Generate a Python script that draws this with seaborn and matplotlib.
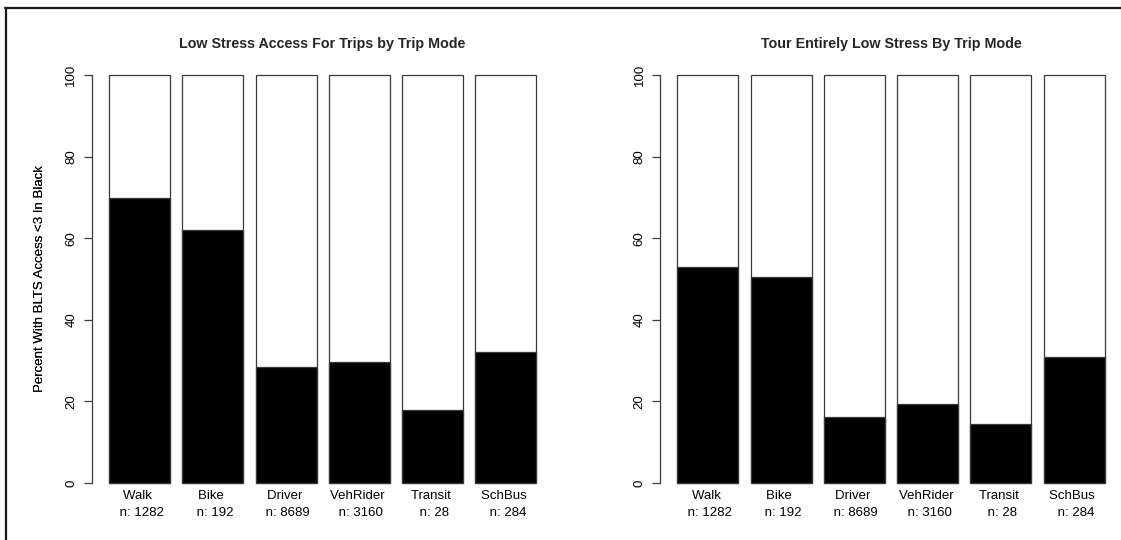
import matplotlib
matplotlib.use("Agg")
import matplotlib.pyplot as plt
from matplotlib.lines import Line2D
import seaborn as sns

# data
modes = ["Walk", "Bike", "Driver", "VehRider", "Transit", "SchBus"]
counts = [1282, 192, 8689, 3160, 28, 284]
trips_low_stress = [69.8, 61.9, 28.5, 29.7, 17.8, 32.2]
tour_low_stress = [53.0, 50.5, 16.1, 19.3, 14.5, 31.0]
full_bar = [100, 100, 100, 100, 100, 100]
yticks = [0, 20, 40, 60, 80, 100]

titles = ["Low Stress Access For Trips by Trip Mode",
          "Tour Entirely Low Stress By Trip Mode"]
ylabel = "Percent With BLTS Access <3 In Black"

sns.set_theme(style="white")
plt.rcParams["font.family"] = ["Liberation Sans", "DejaVu Sans"]

W, H = 1121, 540
fig = plt.figure(figsize=(W / 100, H / 100), dpi=100)

# axes boxes in pixels: (left, right)
panels = [(92.0, 553.3), (660.2, 1121.8)]
top_px, bottom_px = 58.7, 499.3

labels = [f"{m} \n n: {n}" for m, n in zip(modes, counts)]
edge = "#3a3a3a"

for (l, r), title, vals in zip(panels, titles, [trips_low_stress, tour_low_stress]):
    ax = fig.add_axes([l / W, (H - bottom_px) / H, (r - l) / W, (bottom_px - top_px) / H])
    sns.barplot(x=labels, y=full_bar, color="white", edgecolor=edge, linewidth=0.9,
                width=1 / 1.2, saturation=1, ax=ax)
    sns.barplot(x=labels, y=vals, color="black", edgecolor=edge, linewidth=0.9,
                width=1 / 1.2, saturation=1, ax=ax)
    ax.set_xlim(-0.65, 5.65)
    ax.set_ylim(-4, 104)
    for s in ["top", "right", "bottom"]:
        ax.spines[s].set_visible(False)
    ax.spines["left"].set_bounds(0, 100)
    ax.spines["left"].set_color(edge)
    ax.spines["left"].set_linewidth(0.9)
    ax.set_yticks(yticks)
    ax.set_yticklabels([str(t) for t in yticks], rotation=90, va="center")
    ax.tick_params(axis="y", left=True, length=6, width=0.9, color=edge, pad=4.5,
                   labelsize=9.5, labelcolor="black")
    ax.tick_params(axis="x", bottom=False, length=0, pad=-6.5, labelsize=9.5,
                   labelcolor="black")
    for t in ax.get_xticklabels():
        t.set_linespacing(1.55)
    ax.set_title(title, fontsize=10.3, fontweight="bold", pad=7.7)
    ax.set_ylabel(ylabel, fontsize=9.5, color="black")
    ax.yaxis.set_label_coords((46 - l) / (r - l), 0.5)
    ax.set_xlabel("")
    ax.grid(False)
    ax.set_facecolor("white")

# frame from the screenshot crop
fig.add_artist(Line2D([5 / W, 1], [1 - 7.7 / H, 1 - 7.7 / H], color="#1a1a1a", lw=1.6,
                      transform=fig.transFigure))
fig.add_artist(Line2D([6.2 / W, 6.2 / W], [0, 1 - 7.7 / H], color="#1a1a1a", lw=1.6,
                      transform=fig.transFigure))

fig.savefig("out.png", dpi=100, facecolor="white")
